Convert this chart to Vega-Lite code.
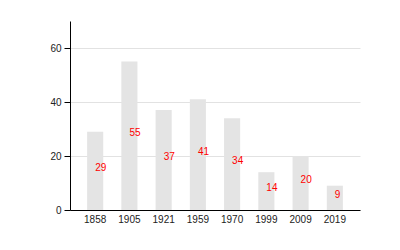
{
  "$schema": "https://vega.github.io/schema/vega-lite/v6.json",
  "autosize": {"type": "none"},
  "padding": {"left": 70, "top": 21, "right": 40, "bottom": 40},
  "width": 290,
  "height": 189,
  "background": "white",
  "config": {
    "view": {"stroke": null},
    "font": "Liberation Sans",
    "axis": {"labelFont": "Liberation Sans", "labelFontSize": 10, "labelColor": "#222", "domainColor": "#000", "tickColor": "#000", "title": null}
  },
  "data": {"values": [
    {"year": "1858", "value": 29},
    {"year": "1905", "value": 55},
    {"year": "1921", "value": 37},
    {"year": "1959", "value": 41},
    {"year": "1970", "value": 34},
    {"year": "1999", "value": 14},
    {"year": "2009", "value": 20},
    {"year": "2019", "value": 9}
  ]},
  "encoding": {
    "x": {"field": "year", "type": "nominal", "sort": null,
      "scale": {"paddingInner": 0.53, "paddingOuter": 0.5},
      "axis": {"labelAngle": 0, "ticks": false, "labelPadding": 4, "grid": false}}
  },
  "layer": [
    {
      "mark": {"type": "bar", "color": "#e4e4e4"},
      "encoding": {
        "y": {"field": "value", "type": "quantitative",
          "scale": {"domain": [0, 70], "nice": false},
          "axis": {"values": [0, 20, 40, 60], "tickSize": 6, "labelPadding": 3, "grid": true, "gridColor": "#e2e2e2"}}
      }
    },
    {
      "mark": {"type": "text", "color": "#ff0000", "fontSize": 10, "align": "left", "baseline": "alphabetic", "font": "Liberation Sans"},
      "encoding": {
        "y": {"field": "value", "type": "quantitative",
          "scale": {"domain": [0, 140], "nice": false}, "axis": null},
        "text": {"field": "value", "type": "quantitative"}
      }
    }
  ],
  "resolve": {"scale": {"y": "independent"}}
}
